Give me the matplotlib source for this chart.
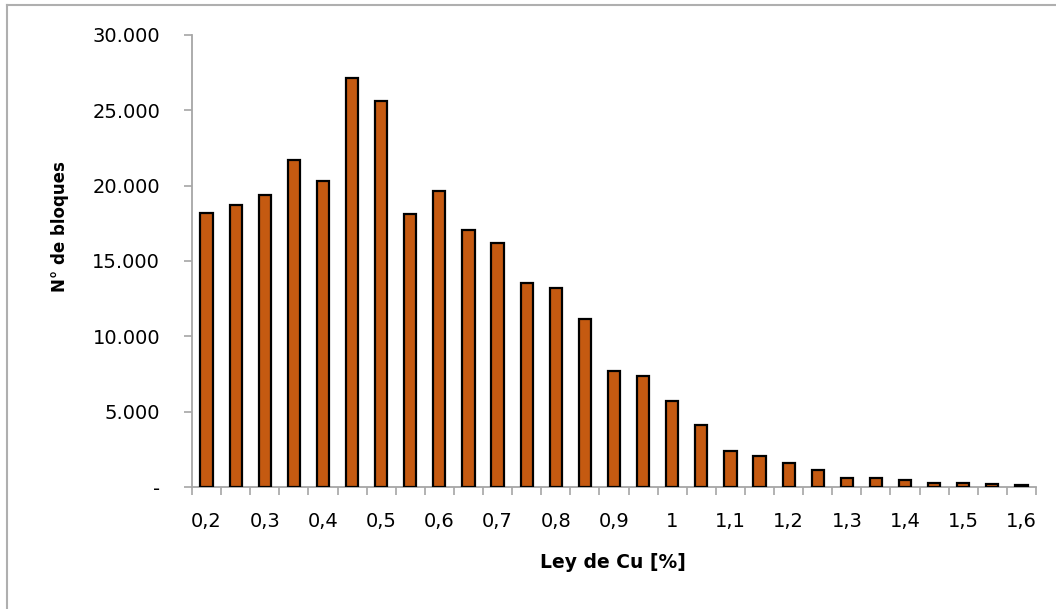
import matplotlib
matplotlib.use("Agg")
import matplotlib.pyplot as plt
from matplotlib.lines import Line2D
from matplotlib.ticker import FixedLocator, FixedFormatter, NullFormatter

# Copper grade classes (%) and block counts per class
grades = [0.20, 0.25, 0.30, 0.35, 0.40, 0.45, 0.50, 0.55, 0.60, 0.65,
          0.70, 0.75, 0.80, 0.85, 0.90, 0.95, 1.00, 1.05, 1.10, 1.15,
          1.20, 1.25, 1.30, 1.35, 1.40, 1.45, 1.50, 1.55, 1.60]
blocks = [18200, 18700, 19350, 21700, 20300, 27150, 25600, 18150, 19650, 17050,
          16200, 13550, 13200, 11150, 7700, 7400, 5700, 4100, 2400, 2080,
          1570, 1130, 600, 580, 480, 270, 290, 200, 130]
x_labels = ["0,2", "0,3", "0,4", "0,5", "0,6", "0,7", "0,8", "0,9",
            "1", "1,1", "1,2", "1,3", "1,4", "1,5", "1,6"]
y_ticks = [0, 5000, 10000, 15000, 20000, 25000, 30000]
y_labels = ["-", "5.000", "10.000", "15.000", "20.000", "25.000", "30.000"]

W, H = 1056, 609
fig = plt.figure(figsize=(W / 100, H / 100), dpi=100)
fig.patch.set_facecolor("white")

ax = fig.add_axes([192 / W, (H - 487) / H, (1036 - 192) / W, (487 - 35) / H])

pos = list(range(len(grades)))
ax.bar(pos, blocks, width=0.42, color="#C55A11", edgecolor="black",
       linewidth=1.6, zorder=3)

ax.set_xlim(-0.5, len(grades) - 0.5)
ax.set_ylim(0, 30000)

axis_gray = "#A6A6A6"
for side in ("top", "right"):
    ax.spines[side].set_visible(False)
for side in ("left", "bottom"):
    ax.spines[side].set_color(axis_gray)
    ax.spines[side].set_linewidth(1.3)

font = "DejaVu Sans"

# Y axis
ax.yaxis.set_major_locator(FixedLocator(y_ticks))
ax.yaxis.set_major_formatter(FixedFormatter(y_labels))
ax.tick_params(axis="y", which="major", direction="out", length=6,
               width=1.2, color=axis_gray, pad=17, labelsize=14)

# X axis: tick marks on class boundaries, labels on every other class
boundaries = [p - 0.5 for p in pos] + [pos[-1] + 0.5]
ax.xaxis.set_major_locator(FixedLocator(boundaries))
ax.xaxis.set_major_formatter(NullFormatter())
ax.xaxis.set_minor_locator(FixedLocator(pos[::2]))
ax.xaxis.set_minor_formatter(FixedFormatter(x_labels))
ax.tick_params(axis="x", which="major", direction="out", length=6,
               width=1.2, color=axis_gray)
ax.tick_params(axis="x", which="minor", length=0, pad=18, labelsize=14)

for lab in ax.get_yticklabels() + ax.get_xticklabels(minor=True):
    lab.set_fontfamily(font)
    lab.set_color("black")

fig.text(613 / W, 1 - 563 / H, "Ley de Cu [%]", ha="center", va="center",
         fontsize=13.5, fontweight="bold", family=font)
fig.text(60 / W, 1 - 227 / H, "N° de bloques", ha="center", va="center",
         rotation=90, fontsize=12, fontweight="bold", family=font)

# Chart frame lines (top and left edges)
frame_gray = "#AFAFAF"
fig.add_artist(Line2D([7 / W, 7 / W], [0, 1 - 5 / H], transform=fig.transFigure,
                      color=frame_gray, linewidth=1.5))
fig.add_artist(Line2D([7 / W, 1], [1 - 5 / H, 1 - 5 / H], transform=fig.transFigure,
                      color=frame_gray, linewidth=1.5))

fig.savefig("out.png", dpi=100, facecolor="white")
